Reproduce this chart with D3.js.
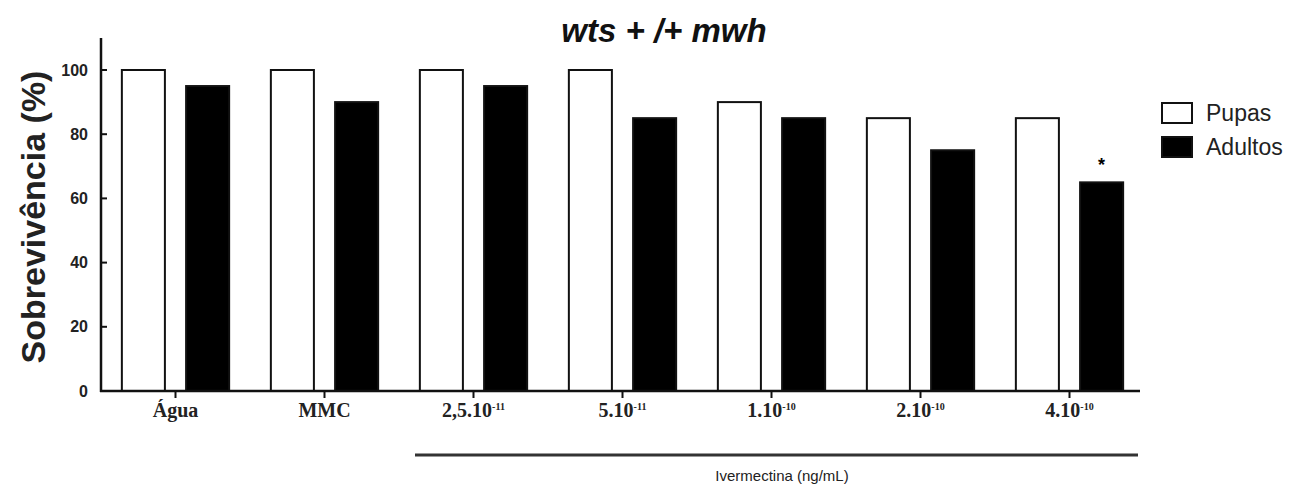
<!DOCTYPE html>
<html>
<head>
<meta charset="utf-8">
<script src="https://cdn.jsdelivr.net/npm/d3@7"></script>
<style>
  body { margin: 0; background: #fff; }
  svg { display: block; }
</style>
</head>
<body>
<div id="chart"></div>
<script>
// Data
const groups = ["Água", "MMC", "2,5.10", "5.10", "1.10", "2.10", "4.10"];
const exponents = ["", "", "-11", "-11", "-10", "-10", "-10"];
const series = ["Pupas", "Adultos"];
const pupas = [100, 100, 100, 100, 90, 85, 85];
const adultos = [95, 90, 95, 85, 85, 75, 65];
const significant = [false, false, false, false, false, false, true];
const yTicks = [0, 20, 40, 60, 80, 100];

const width = 1308, height = 486;

const svg = d3.select("#chart")
  .append("svg")
  .attr("width", width)
  .attr("height", height);

// Scales
const x = d3.scaleBand()
  .domain(groups)
  .range([101, 1144])
  .paddingInner(0.28)
  .paddingOuter(0.14);

const xInner = d3.scaleBand()
  .domain(series)
  .range([0, x.bandwidth()])
  .paddingInner(0.33);

const y = d3.scaleLinear()
  .domain([0, 100])
  .range([391, 70]);

const fill = { Pupas: "#fff", Adultos: "#000" };

// Bars
const rows = groups.map((g, i) => ({ g, i, values: [pupas[i], adultos[i]] }));

const gBar = svg.selectAll("g.group")
  .data(rows)
  .join("g")
  .attr("class", "group")
  .attr("transform", d => `translate(${x(d.g)},0)`);

gBar.selectAll("rect")
  .data(d => series.map((s, k) => ({ s, v: d.values[k] })))
  .join("rect")
  .attr("x", d => xInner(d.s))
  .attr("y", d => y(d.v))
  .attr("width", xInner.bandwidth())
  .attr("height", d => y(0) - y(d.v))
  .attr("fill", d => fill[d.s])
  .attr("stroke", "#111")
  .attr("stroke-width", 2);

// Significance marker
gBar.filter(d => significant[d.i])
  .append("text")
  .attr("x", xInner("Adultos") + xInner.bandwidth() / 2)
  .attr("y", d => y(d.values[1]) - 11)
  .attr("text-anchor", "middle")
  .attr("font-family", "Liberation Sans, Arial, sans-serif")
  .attr("font-weight", "bold")
  .attr("font-size", "18px")
  .text("*");

// Y axis (inward ticks)
const yAxis = svg.append("g")
  .attr("transform", "translate(101,0)");
yAxis.append("line")
  .attr("x1", 0).attr("x2", 0)
  .attr("y1", 38).attr("y2", 392)
  .attr("stroke", "#111").attr("stroke-width", 2.5);
yAxis.selectAll("line.tick")
  .data(yTicks)
  .join("line")
  .attr("class", "tick")
  .attr("x1", 0).attr("x2", 6)
  .attr("y1", d => y(d)).attr("y2", d => y(d))
  .attr("stroke", "#111").attr("stroke-width", 2);
yAxis.selectAll("text")
  .data(yTicks)
  .join("text")
  .attr("x", -13)
  .attr("y", d => y(d))
  .attr("dy", "0.35em")
  .attr("text-anchor", "end")
  .attr("font-family", "Liberation Sans, Arial, sans-serif")
  .attr("font-weight", "bold")
  .attr("font-size", "16px")
  .attr("fill", "#222")
  .text(d => d);

// X axis (outward ticks at group centres)
const xAxis = svg.append("g");
xAxis.append("line")
  .attr("x1", 100).attr("x2", 1140)
  .attr("y1", 391).attr("y2", 391)
  .attr("stroke", "#111").attr("stroke-width", 2.5);
xAxis.selectAll("line.tick")
  .data(groups)
  .join("line")
  .attr("class", "tick")
  .attr("x1", d => x(d) + x.bandwidth() / 2)
  .attr("x2", d => x(d) + x.bandwidth() / 2)
  .attr("y1", 391).attr("y2", 398)
  .attr("stroke", "#111").attr("stroke-width", 2);

const xLabels = xAxis.selectAll("text")
  .data(groups.map((g, i) => ({ g, e: exponents[i] })))
  .join("text")
  .attr("x", d => x(d.g) + x.bandwidth() / 2)
  .attr("y", 417)
  .attr("text-anchor", "middle")
  .attr("font-family", "Liberation Serif, Times New Roman, serif")
  .attr("font-weight", "bold")
  .attr("font-size", "20px")
  .attr("fill", "#222");
xLabels.append("tspan").text(d => d.g);
xLabels.filter(d => d.e)
  .append("tspan")
  .attr("dy", "-0.7em")
  .attr("font-size", "10px")
  .text(d => d.e);

// Ivermectina bracket
svg.append("line")
  .attr("x1", 415).attr("x2", 1138)
  .attr("y1", 455).attr("y2", 455)
  .attr("stroke", "#333").attr("stroke-width", 3);
svg.append("text")
  .attr("x", 782)
  .attr("y", 481)
  .attr("text-anchor", "middle")
  .attr("font-family", "Liberation Sans, Arial, sans-serif")
  .attr("font-size", "15px")
  .attr("fill", "#222")
  .text("Ivermectina (ng/mL)");

// Y axis title
svg.append("text")
  .attr("transform", "translate(45,217) rotate(-90)")
  .attr("text-anchor", "middle")
  .attr("font-family", "Liberation Sans, Arial, sans-serif")
  .attr("font-weight", "bold")
  .attr("font-size", "34px")
  .attr("fill", "#222")
  .text("Sobrevivência (%)");

// Title
svg.append("text")
  .attr("x", 664)
  .attr("y", 42)
  .attr("text-anchor", "middle")
  .attr("font-family", "Liberation Sans, Arial, sans-serif")
  .attr("font-weight", "bold")
  .attr("font-style", "italic")
  .attr("font-size", "33px")
  .attr("fill", "#111")
  .text("wts + /+ mwh");

// Legend
const legend = svg.append("g")
  .attr("transform", "translate(1162,103)");
const li = legend.selectAll("g")
  .data(series)
  .join("g")
  .attr("transform", (d, i) => `translate(0,${i * 34})`);
li.append("rect")
  .attr("width", 30).attr("height", 20)
  .attr("fill", d => fill[d])
  .attr("stroke", "#111").attr("stroke-width", 2);
li.append("text")
  .attr("x", 44).attr("y", 10)
  .attr("dy", "0.35em")
  .attr("font-family", "Liberation Sans, Arial, sans-serif")
  .attr("font-size", "23px")
  .attr("fill", "#222")
  .text(d => d);
</script>
</body>
</html>
